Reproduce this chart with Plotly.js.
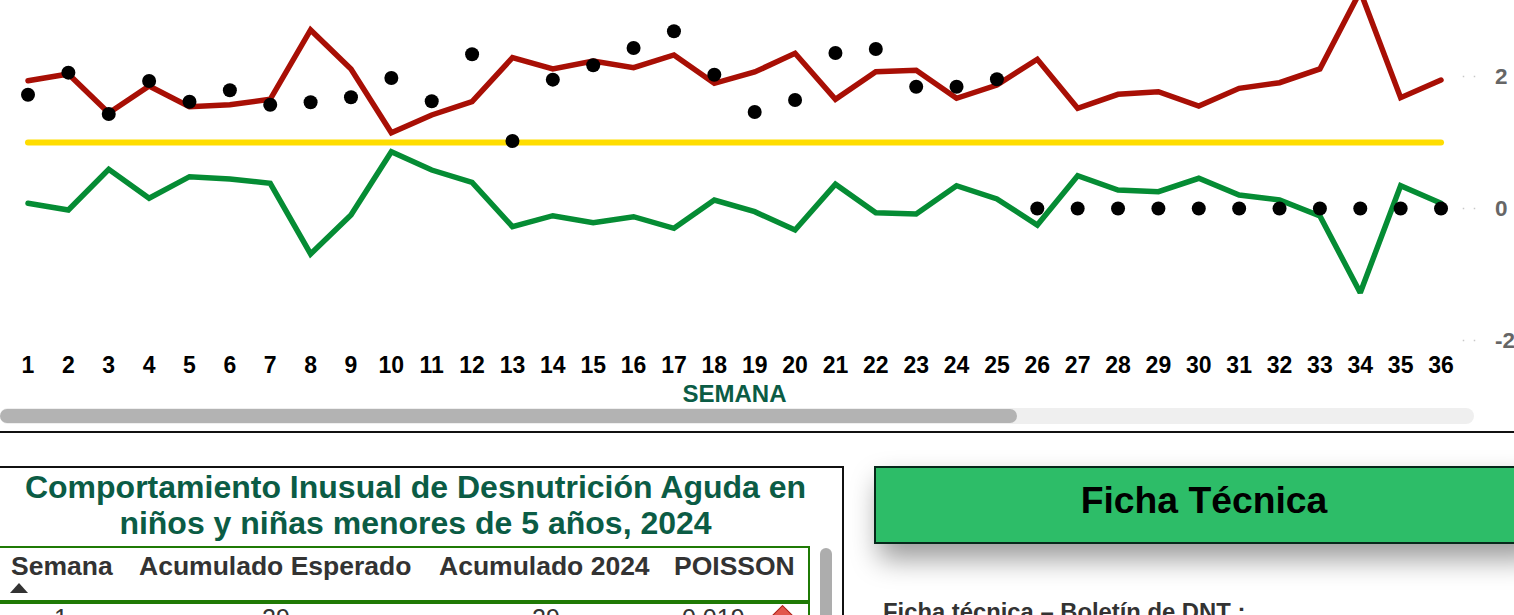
<!DOCTYPE html>
<html lang="es">
<head>
<meta charset="utf-8">
<script src="https://cdn.plot.ly/plotly-3.0.1.min.js"></script>
<style>
html,body{margin:0;padding:0;width:1514px;height:615px;overflow:hidden;background:#fff;font-family:"Liberation Sans",Arial,sans-serif}
#chart{position:absolute;left:0;top:0;width:1514px;height:408px}
#chart .js-line{stroke-linecap:round !important;stroke-linejoin:miter !important}
.a{position:absolute;white-space:nowrap}
.h{top:551px;color:#333;font-weight:bold;font-size:26.5px;line-height:30px}
.r{top:603px;color:#333;font-size:25px;line-height:30px}
</style>
</head>
<body>
<div id="chart"></div>
<div class="a" style="left:0;top:408px;width:1474px;height:16px;background:#efefef;border-radius:8px"></div>
<div class="a" style="left:0;top:409px;width:1017px;height:14px;background:#b3b3b3;border-radius:7px"></div>
<div class="a" style="left:0;top:431px;width:1514px;height:2px;background:#111"></div>

<div class="a" style="left:-10px;top:466px;width:850px;height:200px;border:2px solid #111"></div>
<div class="a" style="left:0;top:469px;width:831px;text-align:center;color:#0b5c45;font-weight:bold;font-size:32px;line-height:36px">Comportamiento Inusual de Desnutrición Aguda en<br>niños y niñas menores de 5 años, 2024</div>
<div class="a" style="left:-10px;top:546px;width:816px;height:52px;border:2px solid #1f7a05;border-bottom:4px solid #1f7a05"></div>
<div class="a" style="left:808px;top:602px;width:2px;height:40px;background:#1f7a05"></div>
<div class="a" style="left:820px;top:548px;width:12px;height:90px;background:#adadad;border-radius:6px"></div>
<div class="a h" style="left:11px">Semana</div>
<div class="a h" style="left:139px">Acumulado Esperado</div>
<div class="a h" style="left:439px">Acumulado 2024</div>
<div class="a h" style="left:674px">POISSON</div>
<div class="a" style="left:10px;top:583px;width:0;height:0;border-left:9px solid transparent;border-right:9px solid transparent;border-bottom:10px solid #333"></div>
<div class="a r" style="left:54px">1</div>
<div class="a r" style="left:262px">29</div>
<div class="a r" style="left:532px">29</div>
<div class="a r" style="left:682px">0.019</div>
<div class="a" style="left:775px;top:608px;width:13px;height:13px;background:#e2574c;border:1px solid #a8231a;transform:rotate(45deg)"></div>

<div class="a" style="left:874px;top:466px;width:656px;height:74px;background:#2dbd68;border:2px solid #06281a;box-shadow:5px 15px 28px rgba(0,0,0,.4);text-align:center;color:#000;font-weight:bold;font-size:37.3px;line-height:65px">Ficha Técnica</div>
<div class="a" style="left:883px;top:598px;color:#333;font-weight:bold;font-size:23.8px;line-height:28px">Ficha técnica – Boletín de DNT :</div>

<script>
const semanas = [1,2,3,4,5,6,7,8,9,10,11,12,13,14,15,16,17,18,19,20,21,22,23,24,25,26,27,28,29,30,31,32,33,34,35,36];
const limiteSuperior = [1.936,2.038,1.447,1.856,1.542,1.573,1.655,2.705,2.114,1.148,1.417,1.618,2.285,2.114,2.235,2.133,2.326,1.897,2.068,2.352,1.655,2.073,2.094,1.670,1.871,2.261,1.518,1.730,1.770,1.553,1.821,1.906,2.114,3.291,1.679,1.947];
const limiteInferior = [0.079,-0.023,0.594,0.155,0.482,0.447,0.382,-0.689,-0.098,0.861,0.583,0.397,-0.276,-0.109,-0.215,-0.124,-0.300,0.129,-0.048,-0.326,0.367,-0.064,-0.083,0.345,0.144,-0.25,0.497,0.280,0.255,0.458,0.205,0.129,-0.114,-1.276,0.345,0.079];
const media = [1,1,1,1,1,1,1,1,1,1,1,1,1,1,1,1,1,1,1,1,1,1,1,1,1,1,1,1,1,1,1,1,1,1,1,1];
const razon2024 = [1.724,2.058,1.432,1.932,1.618,1.791,1.573,1.609,1.685,1.977,1.624,2.336,1.023,1.952,2.170,2.432,2.685,2.027,1.462,1.644,2.356,2.417,1.845,1.845,1.958,0,0,0,0,0,0,0,0,0,0,0];
const yTicks = [-2,0,2];

const traces = [
  {x:semanas,y:media,mode:'lines',line:{color:'#ffdd00',width:6},name:'Media'},
  {x:semanas,y:limiteSuperior,mode:'lines',line:{color:'#a80f05',width:5.5},name:'Límite superior'},
  {x:semanas,y:limiteInferior,mode:'lines',line:{color:'#058c34',width:5.5},name:'Límite inferior'},
  {x:semanas,y:razon2024,mode:'markers',marker:{color:'#000',size:14},name:'2024'}
];
const layout = {
  width:1514,height:408,showlegend:false,
  paper_bgcolor:'rgba(0,0,0,0)',plot_bgcolor:'rgba(0,0,0,0)',
  margin:{l:8,r:52.5,t:0,b:63,pad:0},
  font:{family:'"Liberation Sans",Arial,sans-serif'},
  xaxis:{range:[0.5046,36.495],tickvals:semanas,ticktext:semanas.map(String),tickangle:0,showgrid:false,zeroline:false,showline:false,ticks:'',
    ticklabelstandoff:4,tickfont:{size:23,color:'#000',weight:'bold'},automargin:false,
    title:{text:'SEMANA',standoff:8,font:{size:24,color:'#0b5c45',weight:'bold'}}},
  yaxis:{range:[-2.068,3.159],side:'right',tickvals:yTicks,ticktext:yTicks.map(String),showgrid:false,zeroline:false,showline:false,ticks:'',
    ticklabelstandoff:33,tickfont:{size:22.5,color:'#666',weight:'bold'},automargin:false},
  shapes:yTicks.map(v=>({type:'line',xref:'paper',yref:'y',x0:1.0012,x1:1.012,y0:v,y1:v,line:{color:'#c8c8c8',width:1.5,dash:'1.5px,9.5px'}}))
};
Plotly.newPlot('chart',traces,layout,{displayModeBar:false,responsive:false});
</script>
</body>
</html>
